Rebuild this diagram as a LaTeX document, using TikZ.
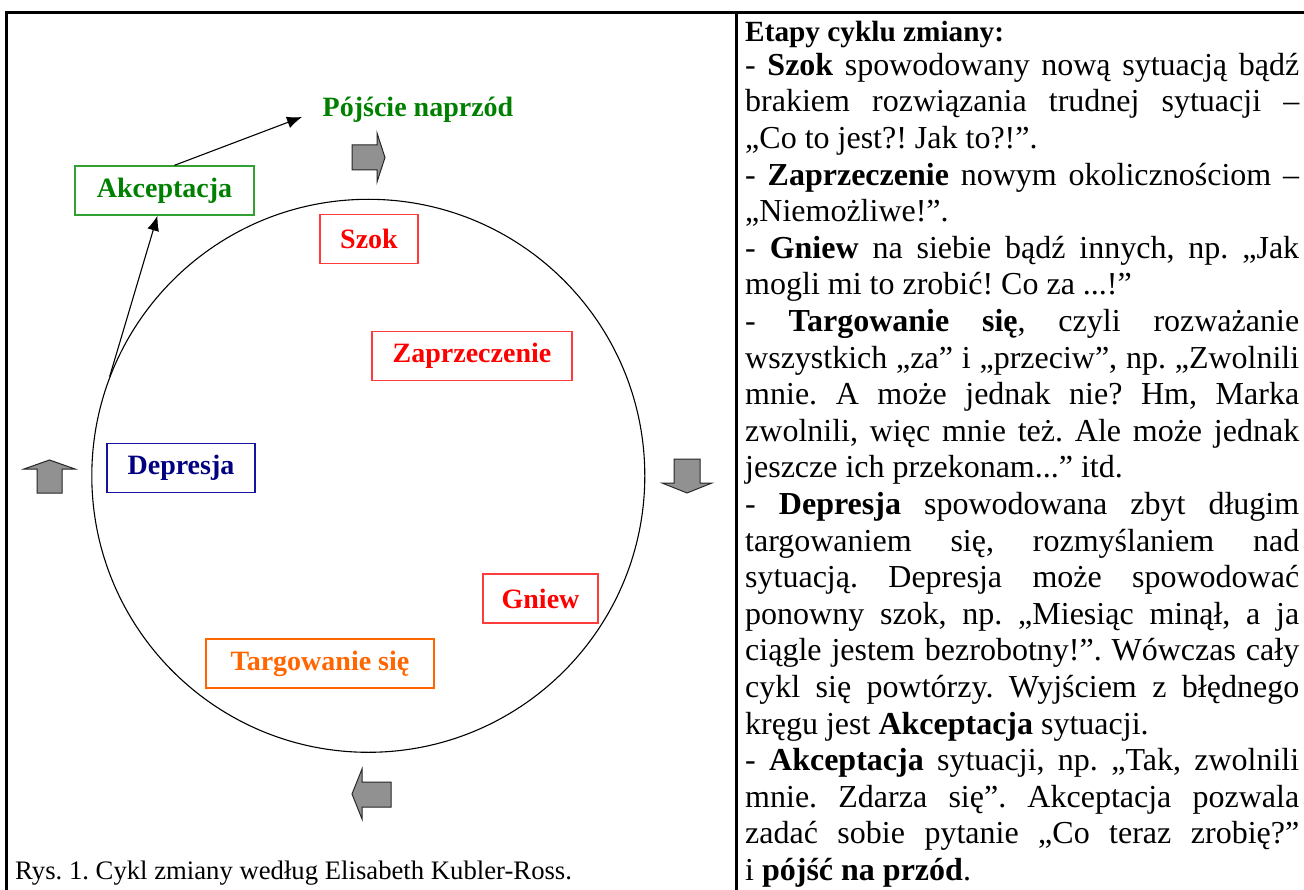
\documentclass[tikz,border=0pt]{standalone}
\usepackage{fontspec}
\setmainfont{Liberation Serif}
\usetikzlibrary{arrows.meta}
\definecolor{akgreen}{RGB}{0,128,0}
\definecolor{akgreenb}{RGB}{50,160,50}
\definecolor{szred}{RGB}{255,0,0}
\definecolor{szredb}{RGB}{255,60,60}
\definecolor{depblue}{RGB}{0,0,128}
\definecolor{depblueb}{RGB}{20,20,160}
\definecolor{targor}{RGB}{255,102,0}
\definecolor{arrgray}{RGB}{145,145,145}
\newlength{\colw}\setlength{\colw}{554pt}
\newcommand{\jl}[1]{\makebox[\colw][s]{#1}}
\frenchspacing
\begin{document}
\begin{tikzpicture}[x=1pt,y=-1pt,
  stage/.style={draw, line width=1.4pt, inner sep=0pt, minimum height=49pt,
    font=\bfseries\fontsize{28}{30}\selectfont},
  blockarrow/.style={fill=arrgray, draw=black!85, line width=1pt, line join=miter},
  conn/.style={line width=1.1pt, -{Latex[length=15pt,width=12pt]}},
  frame/.style={line width=3pt}]
\useasboundingbox (0,0) rectangle (1304,890);
\fill[white] (0,0) rectangle (1304,890);
% frame
\coordinate (ftl) at (6.5,12.5);
\coordinate (ftr) at (1304,12.5);
\coordinate (fbl) at (6.5,890);
\coordinate (dtop) at (736.5,12.5);
\coordinate (dbot) at (736.5,890);
\draw[frame] (ftr) -- (ftl) -- (fbl);
\draw[frame] (dtop) -- (dbot);
% cycle
\node[draw, circle, minimum size=553pt, inner sep=0pt, line width=1.1pt] (cyc) at (368.3,475.8) {};
\node[stage, draw=akgreenb, text=akgreen, minimum width=179pt] (akc) at (164.5,190.5) {Akceptacja};
\node[stage, draw=szredb, text=szred, minimum width=98pt] (szok) at (369,239) {Szok};
\node[stage, draw=szredb, text=szred, minimum width=200pt] (zap) at (472,356) {Zaprzeczenie};
\node[stage, draw=szredb, text=szred, minimum width=115pt] (gniew) at (540.5,598.5) {Gniew};
\node[stage, draw=targor, text=targor, minimum width=228pt] (targ) at (320,663.5) {Targowanie się};
\node[stage, draw=depblueb, text=depblue, minimum width=148pt] (dep) at (181,468) {Depresja};
\node[anchor=base, inner sep=0pt, text=akgreen, font=\bfseries\fontsize{28}{30}\selectfont] (pn) at (418,117) {Pójście naprzód};
\coordinate (pntip) at (302,117);
\draw[conn] (cyc.159) -- ([xshift=-7pt]akc.south);
\draw[conn] ([xshift=10pt]akc.north) -- (pntip);
% block arrows
\draw[blockarrow] (352,145) -- (377,145) -- (377,133) -- (385,157.5) -- (377,182) -- (377,170) -- (352,170) -- cycle;
\draw[blockarrow] (674,459) -- (700,459) -- (700,483) -- (712,483) -- (687,493) -- (662,483) -- (674,483) -- cycle;
\draw[blockarrow] (391,782) -- (391,807) -- (362,807) -- (362,819) -- (352,794) -- (362,769) -- (362,782) -- cycle;
\draw[blockarrow] (37,493) -- (37,469) -- (24,469) -- (49.5,460) -- (75,469) -- (62,469) -- (62,493) -- cycle;
% caption
\node[anchor=base west, inner sep=0pt, font=\fontsize{26.7}{30}\selectfont] (cap) at (15,879) {Rys. 1. Cykl zmiany według Elisabeth Kubler-Ross.};
% right text
\node[anchor=base west, inner sep=0pt, font=\bfseries\fontsize{29.3}{33}\selectfont] (head) at (745,42) {Etapy cyklu zmiany:};
\node[anchor=north west, inner sep=0pt, align=left, font=\fontsize{32}{36.6}\selectfont] (txt) at (745,50) {%
\jl{\rule{0pt}{25pt}- \textbf{Szok} spowodowany nową sytuacją bądź}\\
\jl{brakiem rozwiązania trudnej sytuacji –}\\
„Co to jest?! Jak to?!”.\\
\jl{- \textbf{Zaprzeczenie} nowym okolicznościom –}\\
„Niemożliwe!”.\\
\jl{- \textbf{Gniew} na siebie bądź innych, np. „Jak}\\
mogli mi to zrobić! Co za ...!”\\
\jl{- \textbf{Targowanie się}, czyli rozważanie}\\
\jl{wszystkich „za” i „przeciw”, np. „Zwolnili}\\
\jl{mnie. A może jednak nie? Hm, Marka}\\
\jl{zwolnili, więc mnie też. Ale może jednak}\\
jeszcze ich przekonam...” itd.\\
\jl{- \textbf{Depresja} spowodowana zbyt długim}\\
\jl{targowaniem się, rozmyślaniem nad}\\
\jl{sytuacją. Depresja może spowodować}\\
\jl{ponowny szok, np. „Miesiąc minął, a ja}\\
\jl{ciągle jestem bezrobotny!”. Wówczas cały}\\
\jl{cykl się powtórzy. Wyjściem z błędnego}\\
kręgu jest \textbf{Akceptacja} sytuacji.\\
\jl{- \textbf{Akceptacja} sytuacji, np. „Tak, zwolnili}\\
\jl{mnie. Zdarza się”. Akceptacja pozwala}\\
\jl{zadać sobie pytanie „Co teraz zrobię?”}\\
i \textbf{pójść na przód}.};
\end{tikzpicture}
\end{document}
